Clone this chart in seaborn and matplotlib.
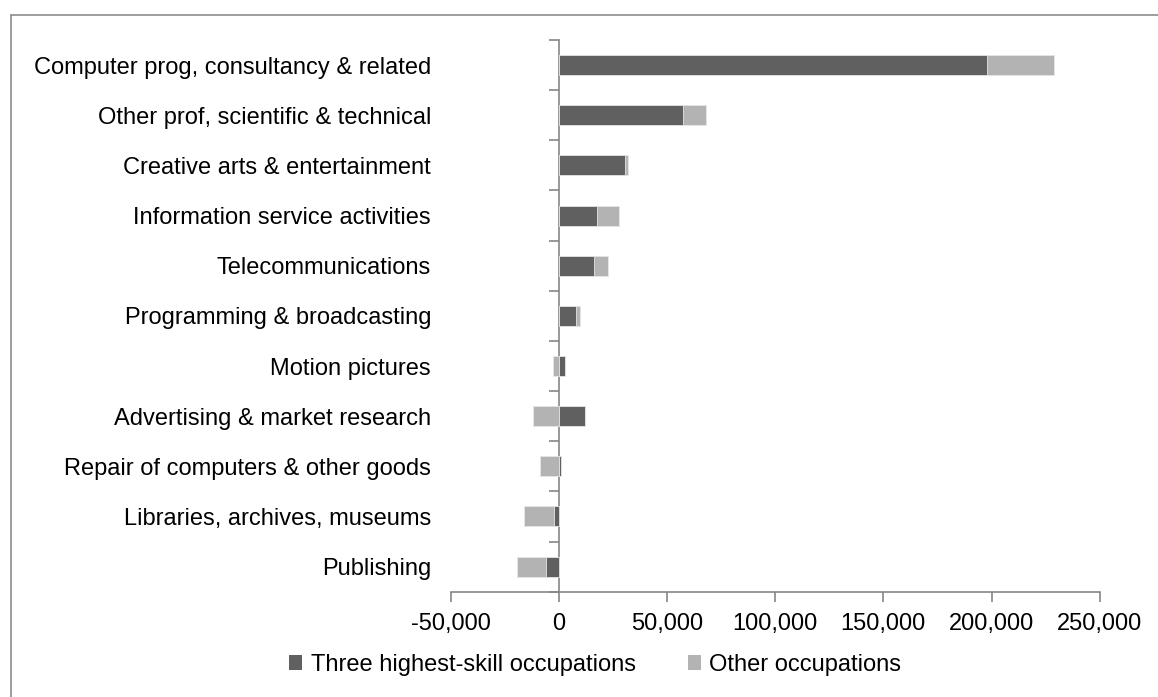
import matplotlib
matplotlib.use('Agg')
import matplotlib.pyplot as plt
from matplotlib.patches import Patch
from matplotlib.lines import Line2D
import seaborn as sns

# values
categories = ['Computer prog, consultancy & related',
              'Other prof, scientific & technical',
              'Creative arts & entertainment',
              'Information service activities',
              'Telecommunications',
              'Programming & broadcasting',
              'Motion pictures',
              'Advertising & market research',
              'Repair of computers & other goods',
              'Libraries, archives, museums',
              'Publishing']
high_skill = [197800, 57200, 30400, 17900, 16200, 7900, 2700, 12200, 1200, -2000, -6100]
other_occ = [30900, 11000, 1800, 10100, 6800, 1800, -2700, -12000, -8600, -14200, -13400]
x_ticks = [-50000, 0, 50000, 100000, 150000, 200000, 250000]

dark = '#606060'
light = '#b3b3b3'
grey = '#868686'

sns.set_style('white')
plt.rcParams['font.family'] = ['Liberation Sans', 'DejaVu Sans']
plt.rcParams['text.color'] = 'black'
plt.rcParams['xtick.labelcolor'] = 'black'
plt.rcParams['ytick.labelcolor'] = 'black'

fig = plt.figure(figsize=(11.58, 6.97), dpi=100)
ax = fig.add_axes([450.5 / 1158, 1 - 591.7 / 697, (1099.8 - 450.5) / 1158, (591.7 - 40) / 697])

# stacked: second series continues from the first when signs agree, else starts at 0
other_end = [h + o if (h >= 0) == (o >= 0) else o for h, o in zip(high_skill, other_occ)]

sns.barplot(x=other_end, y=categories, order=categories, orient='h', color=light,
            saturation=1, width=0.4, errorbar=None, edgecolor='#e6e6e6', linewidth=0.6, ax=ax)
sns.barplot(x=high_skill, y=categories, order=categories, orient='h', color=dark,
            saturation=1, width=0.4, errorbar=None, edgecolor='#e6e6e6', linewidth=0.6, ax=ax)

ax.set_xlim(x_ticks[0], x_ticks[-1])
ax.set_xticks(x_ticks)
ax.set_xticklabels([f'{v:,}' for v in x_ticks])
ax.set_xlabel('')
ax.set_ylabel('')

for side in ['top', 'right', 'left']:
    ax.spines[side].set_visible(False)
ax.spines['bottom'].set_color(grey)
ax.spines['bottom'].set_linewidth(1.2)
ax.tick_params(axis='x', direction='out', length=7, width=1.2, color=grey,
               labelsize=17, pad=8, bottom=True)
ax.tick_params(axis='y', length=0, labelsize=17, pad=14)

# zero axis with category-boundary ticks
zero_pos = (0 - x_ticks[0]) / (x_ticks[-1] - x_ticks[0])
sec = ax.secondary_yaxis(zero_pos)
sec.set_yticks([i - 0.5 for i in range(len(categories) + 1)])
sec.tick_params(axis='y', direction='out', length=7, width=1.2, color=grey, labelleft=False,
                labelright=False)
for sp in sec.spines.values():
    sp.set_color(grey)
    sp.set_linewidth(1.2)

handles = [Patch(facecolor=dark, edgecolor='none', label='Three highest-skill occupations'),
           Patch(facecolor=light, edgecolor='none', label='Other occupations')]
fig.legend(handles=handles, loc='center', bbox_to_anchor=(0.514, 0.046), ncol=2,
           frameon=False, fontsize=17, handlelength=0.55, handleheight=0.55,
           handletextpad=0.35, columnspacing=2.2)

# outer chart frame (only top and left edges fall inside the image)
fig.add_artist(Line2D([11 / 1158, 11 / 1158], [-0.01, 1 - 14.7 / 697],
                      transform=fig.transFigure, color='#8c8c8c', lw=1.2))
fig.add_artist(Line2D([11 / 1158, 1.01], [1 - 14.7 / 697, 1 - 14.7 / 697],
                      transform=fig.transFigure, color='#8c8c8c', lw=1.2))

fig.savefig('out.png', dpi=100)
